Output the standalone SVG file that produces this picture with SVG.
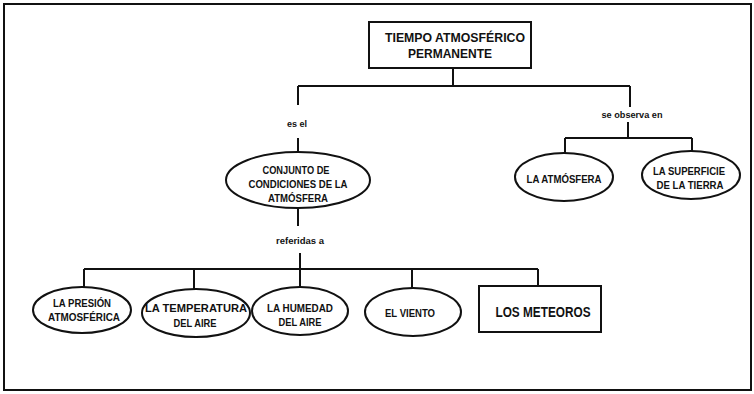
<svg xmlns="http://www.w3.org/2000/svg" width="754" height="394" viewBox="0 0 754 394">
<style>
.t{font-family:"Liberation Sans",Arial,sans-serif;font-weight:bold;fill:#111;text-anchor:middle}
.n{fill:#fff;stroke:#111;stroke-width:2}
.c{fill:none;stroke:#111;stroke-width:2}
</style>
<rect x="0" y="0" width="754" height="394" fill="#fff"/>
<rect x="4" y="4" width="747" height="386" fill="none" stroke="#111" stroke-width="2"/>
<g id="connectors" class="c">
<path d="M453 68V86M298 86H630M298 86V105M630 86V107"/>
<path d="M298 138V152M298 208V226M300 253V269M84 269H538M84 269V288M194 269V290M300 269V288M412 269V289M538 269V286"/>
<path d="M628 122V138M565 138H692M565 138V154M692 138V152"/>
</g>
<g class="t" font-size="9">
<text x="297" y="127" textLength="20" lengthAdjust="spacingAndGlyphs">es el</text>
<text x="632" y="118" textLength="61" lengthAdjust="spacingAndGlyphs">se observa en</text>
<text x="300" y="244" textLength="48" lengthAdjust="spacingAndGlyphs">referidas a</text>
</g>
<g id="n-tiempo">
<rect class="n" x="369" y="22" width="162" height="46"/>
<text class="t" x="455" y="42" font-size="13" textLength="140" lengthAdjust="spacingAndGlyphs">TIEMPO ATMOSFÉRICO</text>
<text class="t" x="450" y="58" font-size="13" textLength="84" lengthAdjust="spacingAndGlyphs">PERMANENTE</text>
</g>
<g id="n-conjunto">
<ellipse class="n" cx="298" cy="180" rx="72" ry="28"/>
<text class="t" x="296" y="174" font-size="11" textLength="67" lengthAdjust="spacingAndGlyphs">CONJUNTO DE</text>
<text class="t" x="298" y="188" font-size="11" textLength="99" lengthAdjust="spacingAndGlyphs">CONDICIONES DE LA</text>
<text class="t" x="298" y="202" font-size="11" textLength="60" lengthAdjust="spacingAndGlyphs">ATMÓSFERA</text>
</g>
<g id="n-atmosfera">
<ellipse class="n" cx="564" cy="177" rx="49" ry="24"/>
<text class="t" x="564" y="183" font-size="11" textLength="75" lengthAdjust="spacingAndGlyphs">LA ATMÓSFERA</text>
</g>
<g id="n-superficie">
<ellipse class="n" cx="691" cy="175" rx="49" ry="24"/>
<text class="t" x="689" y="175" font-size="11" textLength="72" lengthAdjust="spacingAndGlyphs">LA SUPERFICIE</text>
<text class="t" x="690" y="189" font-size="11" textLength="67" lengthAdjust="spacingAndGlyphs">DE LA TIERRA</text>
</g>
<g id="n-presion">
<ellipse class="n" cx="82" cy="310" rx="49" ry="23"/>
<text class="t" x="82" y="307" font-size="11" textLength="58" lengthAdjust="spacingAndGlyphs">LA PRESIÓN</text>
<text class="t" x="84" y="321" font-size="11" textLength="72" lengthAdjust="spacingAndGlyphs">ATMOSFÉRICA</text>
</g>
<g id="n-temperatura">
<ellipse class="n" cx="196" cy="313" rx="54" ry="24"/>
<text class="t" x="196" y="312" font-size="11" textLength="102" lengthAdjust="spacingAndGlyphs">LA TEMPERATURA</text>
<text class="t" x="195" y="327" font-size="11" textLength="43" lengthAdjust="spacingAndGlyphs">DEL AIRE</text>
</g>
<g id="n-humedad">
<ellipse class="n" cx="300" cy="311" rx="48" ry="24"/>
<text class="t" x="300" y="312" font-size="11" textLength="66" lengthAdjust="spacingAndGlyphs">LA HUMEDAD</text>
<text class="t" x="300" y="326" font-size="11" textLength="43" lengthAdjust="spacingAndGlyphs">DEL AIRE</text>
</g>
<g id="n-viento">
<ellipse class="n" cx="413" cy="312" rx="48" ry="24"/>
<text class="t" x="410" y="317" font-size="10" textLength="50" lengthAdjust="spacingAndGlyphs">EL VIENTO</text>
</g>
<g id="n-meteoros">
<rect class="n" x="479" y="286" width="122" height="46"/>
<text class="t" x="543" y="317" font-size="14" textLength="95" lengthAdjust="spacingAndGlyphs">LOS METEOROS</text>
</g>
</svg>
